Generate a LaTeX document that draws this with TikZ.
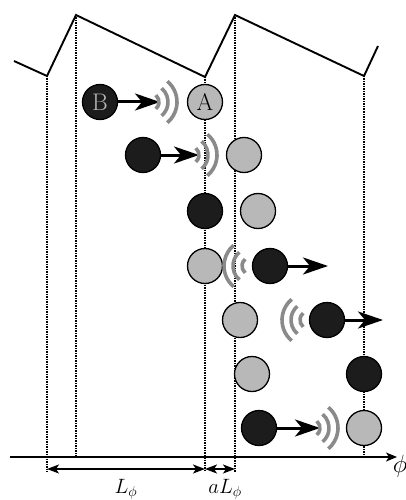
\documentclass[tikz,border=0pt]{standalone}
\usetikzlibrary{arrows.meta,calc}
\definecolor{ballblack}{HTML}{1C1C1C}
\definecolor{ballgray}{HTML}{B8B8B8}
\definecolor{wavegray}{HTML}{8A8A8A}
\tikzset{
  ballB/.style={circle,draw=black,line width=1.3pt,fill=ballblack,minimum size=35pt,inner sep=0pt,text=ballgray,font=\fontsize{24}{28}\selectfont},
  ballA/.style={circle,draw=black,line width=1.3pt,fill=ballgray,minimum size=35pt,inner sep=0pt,font=\fontsize{24}{28}\selectfont},
  guide/.style={densely dotted,line width=1.5pt},
  saw/.style={line width=1.9pt,line join=miter},
  push/.style={line width=3pt,-{Stealth[length=25pt,width=17pt,inset=7pt]}},
  wave/.style={wavegray,line width=3.6pt},
  dim/.style={line width=1.8pt,{Stealth[length=12pt,width=9pt,inset=3pt]}-{Stealth[length=12pt,width=9pt,inset=3pt]}},
  lab/.style={font=\fontsize{22}{26}\selectfont,inner sep=0pt}
}
\newcommand\wavesright[1]{%
  \foreach \rr in {9,18,27}{\draw[wave] ($(#1)+(-50:\rr)$) arc[start angle=-50,end angle=50,radius=\rr];}}
\newcommand\wavesleft[1]{%
  \foreach \rr in {9,18,27}{\draw[wave] ($(#1)+(130:\rr)$) arc[start angle=130,end angle=230,radius=\rr];}}
\begin{document}
\begin{tikzpicture}[x=1pt,y=-1pt]
\useasboundingbox (0,0) rectangle (406,500);
% sawtooth
\coordinate (s0) at (14,61);
\coordinate (m1) at (47,76);
\coordinate (p1) at (76,15);
\coordinate (m2) at (205,77);
\coordinate (p2) at (235,15);
\coordinate (m3) at (364,76);
\coordinate (s1) at (378,46);
\draw[saw] (s0) -- (m1) -- (p1) -- (m2) -- (p2) -- (m3) -- (s1);
% guide line ends
\coordinate (g1) at (47,472);
\coordinate (g2) at (76,457);
\coordinate (g3) at (205,472);
\coordinate (g4) at (235,472);
\coordinate (g5) at (364,457);
\draw[guide] (m1) -- (g1);
\draw[guide] (p1) -- (g2);
\draw[guide] (m2) -- (g3);
\draw[guide] (p2) -- (g4);
\draw[guide] (m3) -- (g5);
% axis
\coordinate (ax0) at (10,457);
\coordinate (ax1) at (397,457);
\draw[line width=1.8pt,-{Stealth[length=11pt,width=9pt,inset=3pt]}] (ax0) -- (ax1);
\node[lab,font=\fontsize{24}{28}\selectfont] (phi) at (400,466) {$\phi$};
% dimensions
\coordinate (d1) at (47,469);
\coordinate (d2) at (205,469);
\coordinate (d3) at (235,469);
\draw[dim] (d1) -- (d2);
\draw[dim] (d2) -- (d3);
\node[lab] (L) at (126,489) {$L_\phi$};
\node[lab] (aL) at (225,489) {$aL_\phi$};
% row 1
\node[ballB] (b1) at (100,102) {B};
\node[ballA] (a1) at (205,102) {A};
\coordinate (t1) at (160,102);
\coordinate (w1) at (150,102);
\draw[push] (b1) -- (t1);
\wavesright{w1}
% row 2
\node[ballB] (b2) at (143,155) {};
\node[ballA] (a2) at (244,155) {};
\coordinate (t2) at (199,155);
\coordinate (w2) at (190,155);
\draw[push] (b2) -- (t2);
\wavesright{w2}
% row 3
\node[ballB] (b3) at (205,211) {};
\node[ballA] (a3) at (258,211) {};
% row 4
\node[ballA] (a4) at (205,266) {};
\node[ballB] (b4) at (270,266) {};
\coordinate (t4) at (328,266);
\coordinate (w4) at (251,266);
\draw[push] (b4) -- (t4);
\wavesleft{w4}
% row 5
\node[ballA] (a5) at (240,320) {};
\node[ballB] (b5) at (327,320) {};
\coordinate (t5) at (383,320);
\coordinate (w5) at (309,320);
\draw[push] (b5) -- (t5);
\wavesleft{w5}
% row 6
\node[ballA] (a6) at (252,374) {};
\node[ballB] (b6) at (364,374) {};
% row 7
\node[ballB] (b7) at (259,428) {};
\node[ballA] (a7) at (364,428) {};
\coordinate (t7) at (320,428);
\coordinate (w7) at (311,428);
\draw[push] (b7) -- (t7);
\wavesright{w7}
\end{tikzpicture}
\end{document}
